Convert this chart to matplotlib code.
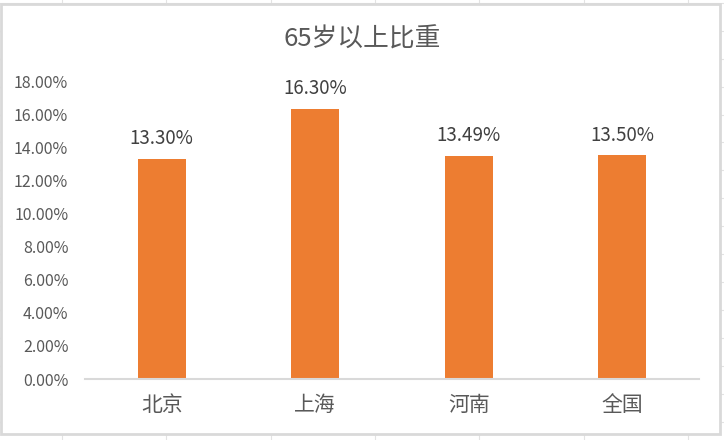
import matplotlib
matplotlib.use('Agg')
import matplotlib.pyplot as plt
from matplotlib.patches import Rectangle
from matplotlib.lines import Line2D
import numpy as np

plt.rcParams['font.family'] = ['Noto Sans CJK SC', 'DejaVu Sans']

# data
regions = ['北京', '上海', '河南', '全国']
share_65 = [0.1330, 0.1630, 0.1349, 0.1350]
yticks = [0.00, 0.02, 0.04, 0.06, 0.08, 0.10, 0.12, 0.14, 0.16, 0.18]

W, H = 724, 440
fig = plt.figure(figsize=(W / 100, H / 100), dpi=100)

# faint spreadsheet cells behind the chart
grid_c = '#e3e3e3'
for gx in np.arange(62, W, 104.3):
    fig.add_artist(Line2D([gx / W, gx / W], [0, 1], color=grid_c, lw=0.8, zorder=0))
for gy in np.arange(3, H, 27.9):
    fig.add_artist(Line2D([0, 1], [1 - gy / H, 1 - gy / H], color=grid_c, lw=0.8, zorder=0))

# chart area (white with light gray border)
fig.add_artist(Rectangle((1 / W, 1 - 434 / H), 719 / W, 430 / H, transform=fig.transFigure,
                         facecolor='white', edgecolor='#d9d9d9', lw=2, zorder=1))

ax = fig.add_axes([85 / W, 61 / H, 614 / W, 298 / H])
ax.set_zorder(2)
ax.patch.set_alpha(0)

x = np.arange(len(regions))
bars = ax.bar(x, share_65, width=0.31, color='#ed7d31')
ax.set_xlim(-0.5, len(regions) - 0.5)
ax.set_ylim(0, 0.18)
ax.set_yticks(yticks)
ax.set_yticklabels(['{:.2f}%'.format(v * 100) for v in yticks], fontsize=11.5, color='#595959')
ax.set_xticks(x)
ax.set_xticklabels(regions, fontsize=15, color='#595959')
ax.tick_params(axis='both', length=0)
ax.tick_params(axis='y', pad=12)
ax.tick_params(axis='x', pad=11)

for s in ['top', 'right', 'left']:
    ax.spines[s].set_visible(False)
ax.spines['bottom'].set_color('#d9d9d9')
ax.spines['bottom'].set_linewidth(1.5)

for b, v in zip(bars, share_65):
    ax.annotate('{:.2f}%'.format(v * 100), (b.get_x() + b.get_width() / 2, v),
                xytext=(0, 7), textcoords='offset points', ha='center', va='bottom',
                fontsize=13.5, color='#404040')

fig.text(362 / W, 1 - 40 / H, '65岁以上比重', ha='center', va='center',
         fontsize=18.5, color='#595959')

fig.savefig('out.png', dpi=100)
